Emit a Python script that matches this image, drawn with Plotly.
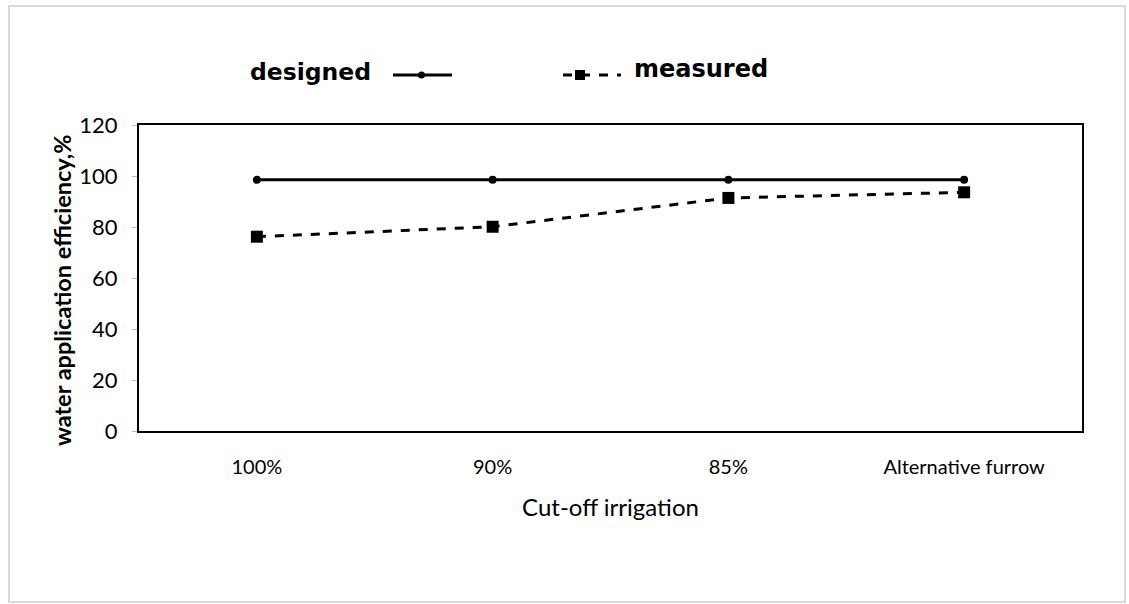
import plotly.graph_objects as go

categories = ["100%", "90%", "85%", "Alternative furrow"]
designed = [98.5, 98.5, 98.5, 98.5]
measured = [76.2, 80.1, 91.4, 93.6]
y_ticks = [0, 20, 40, 60, 80, 100, 120]

W, H = 1129, 604
L, R, T, B = 139, 1082, 125, 431

def px_x(x):
    return (x - L) / (R - L)

def px_y(y):
    return (B - y) / (B - T)

fig = go.Figure()
fig.add_trace(go.Scatter(
    x=categories, y=designed, mode="lines+markers", name="designed",
    line=dict(color="black", width=3),
    marker=dict(symbol="circle", size=8, color="black"),
    showlegend=False,
))
fig.add_trace(go.Scatter(
    x=categories, y=measured, mode="lines+markers", name="measured",
    line=dict(color="black", width=3, dash="dash"),
    marker=dict(symbol="square", size=12, color="black"),
    showlegend=False,
))

shapes = [
    dict(type="rect", xref="paper", yref="paper",
         x0=px_x(9), x1=px_x(1125), y0=px_y(602), y1=px_y(6),
         line=dict(color="#d9d9d9", width=2), layer="below"),
    dict(type="line", xref="paper", yref="paper",
         x0=px_x(393), x1=px_x(452), y0=px_y(75), y1=px_y(75),
         line=dict(color="black", width=3)),
    dict(type="circle", xref="paper", yref="paper",
         x0=px_x(418), x1=px_x(425), y0=px_y(78.5), y1=px_y(71.5),
         fillcolor="black", line=dict(color="black", width=0)),
    dict(type="line", xref="paper", yref="paper",
         x0=px_x(563), x1=px_x(621), y0=px_y(75), y1=px_y(75),
         line=dict(color="black", width=3, dash="dash")),
    dict(type="rect", xref="paper", yref="paper",
         x0=px_x(575), x1=px_x(585), y0=px_y(80), y1=px_y(70),
         fillcolor="black", line=dict(color="black", width=0)),
]

annotations = [
    dict(text="designed", xref="paper", yref="paper",
         x=px_x(248), y=px_y(72), xanchor="left", yanchor="middle",
         showarrow=False, font=dict(family="DejaVu Sans", size=23.5, color="black", weight="bold")),
    dict(text="measured", xref="paper", yref="paper",
         x=px_x(632), y=px_y(69), xanchor="left", yanchor="middle",
         showarrow=False, font=dict(family="DejaVu Sans", size=24, color="black", weight="bold")),
    dict(text="<b>water application efficiency,%</b>", xref="paper", yref="paper",
         x=px_x(62), y=px_y(290), xanchor="center", yanchor="middle", textangle=-90,
         showarrow=False, font=dict(family="Lato", size=23.5, color="black")),
]

fig.update_layout(
    width=W, height=H,
    margin=dict(l=L, r=W - R, t=T, b=H - B),
    paper_bgcolor="white", plot_bgcolor="white",
    shapes=shapes, annotations=annotations,
    showlegend=False,
    font=dict(family="Lato", color="black"),
)
fig.update_xaxes(
    type="category", range=[-0.5, 3.5],
    showline=True, linecolor="black", linewidth=2, mirror=True,
    showgrid=False, ticks="", tickfont=dict(size=20, family="Lato"),
    ticklabelstandoff=17,
    title=dict(text="Cut-off irrigation", font=dict(size=24, family="Lato"), standoff=22),
)
fig.update_yaxes(
    range=[0, 120], tickvals=y_ticks,
    showline=True, linecolor="black", linewidth=2, mirror=True,
    showgrid=False, ticks="outside", ticklen=5, tickcolor="#bbbbbb", tickwidth=1,
    tickfont=dict(size=22, family="Lato"),
    ticklabelstandoff=10,
)

fig.write_html("out.html", config={"displayModeBar": False},
               post_script="document.body.style.margin='0px';")
